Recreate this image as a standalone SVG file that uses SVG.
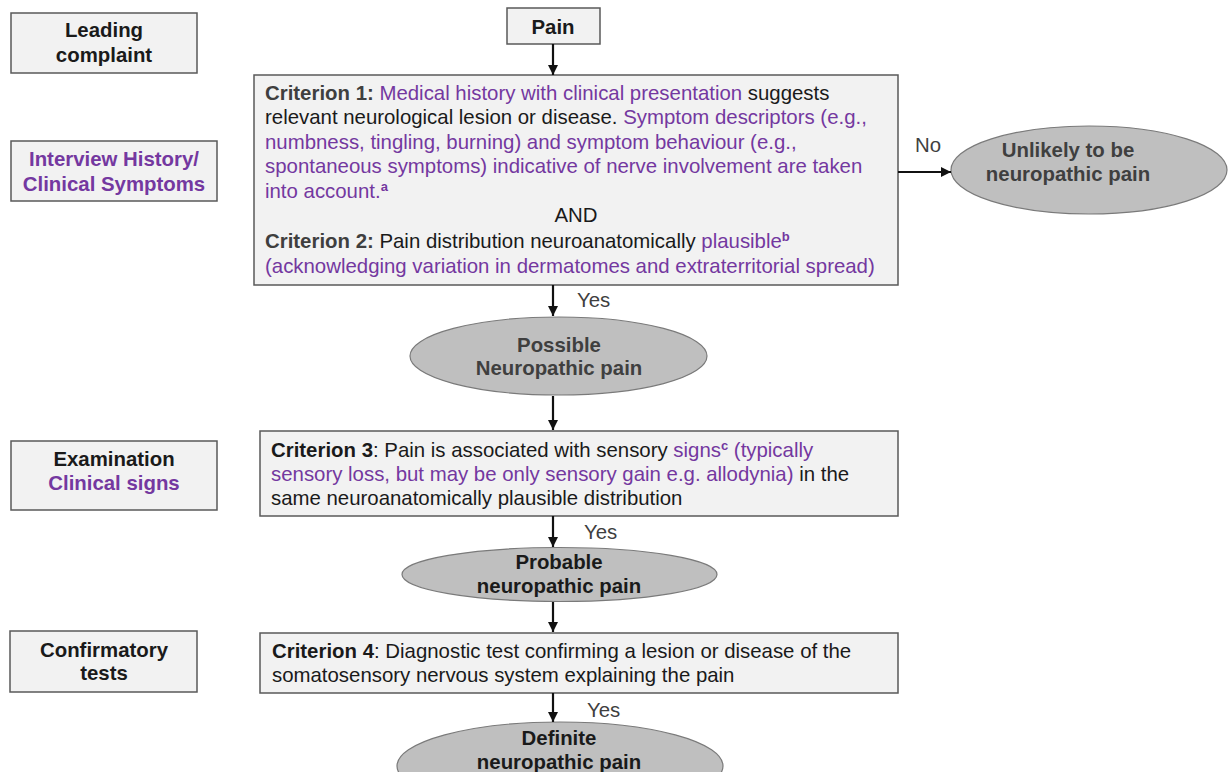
<svg xmlns="http://www.w3.org/2000/svg" width="1229" height="772" viewBox="0 0 1229 772">
<defs>
<marker id="ah" viewBox="0 0 10 10" refX="10" refY="5" markerWidth="10" markerHeight="10" markerUnits="userSpaceOnUse" orient="auto">
<path d="M0,0 L10,5 L0,10 z" fill="#111"/>
</marker>
<style>
text{font-family:"Liberation Sans",Arial,sans-serif;font-size:20.4px;fill:#1a1a1a}
.b{font-weight:bold}
.c{text-anchor:middle}
.p{fill:#7438a0}
.g{fill:#3f3f3f}
.box{fill:#f2f2f2;stroke:#595959;stroke-width:1.5}
.ell{fill:#bfbfbf;stroke:#7a7a7a;stroke-width:1.2}
.sup{font-size:13px;font-weight:bold}
.con{stroke:#111;stroke-width:2.2;fill:none;marker-end:url(#ah)}
</style>
</defs>
<rect width="1229" height="772" fill="#ffffff"/>

<g id="leading-complaint">
<rect class="box" x="11" y="13" width="186" height="60"/>
<text class="b c" x="104" y="37">Leading</text>
<text class="b c" x="104" y="62">complaint</text>
</g>

<g id="interview-history">
<rect class="box" x="11" y="141" width="206" height="60"/>
<text class="b c p" x="114" y="166">Interview History/</text>
<text class="b c p" x="114" y="191">Clinical Symptoms</text>
</g>

<g id="examination">
<rect class="box" x="11" y="441" width="206" height="69"/>
<text class="b c" x="114" y="466">Examination</text>
<text class="b c p" x="114" y="490">Clinical signs</text>
</g>

<g id="confirmatory-tests">
<rect class="box" x="10" y="631" width="187" height="61"/>
<text class="b c" x="104" y="657">Confirmatory</text>
<text class="b c" x="104" y="680">tests</text>
</g>

<g id="pain">
<rect class="box" x="507" y="8" width="93" height="36"/>
<text class="b c" x="553" y="34">Pain</text>
</g>

<g id="criterion-1">
<rect class="box" x="254" y="75" width="644" height="210"/>
<text x="265" y="100"><tspan class="b g">Criterion 1:</tspan> <tspan class="p">Medical history with clinical presentation</tspan> suggests</text>
<text x="265" y="124">relevant neurological lesion or disease. <tspan class="p">Symptom descriptors (e.g.,</tspan></text>
<text x="265" y="149" class="p">numbness, tingling, burning) and symptom behaviour (e.g.,</text>
<text x="265" y="173" class="p">spontaneous symptoms) indicative of nerve involvement are taken</text>
<text x="265" y="198" class="p">into account.<tspan class="sup" dy="-7">a</tspan></text>
<text class="c" x="576" y="222">AND</text>
<text x="265" y="248"><tspan class="b g">Criterion 2:</tspan> Pain distribution neuroanatomically <tspan class="p">plausible</tspan><tspan class="sup p" dy="-7">b</tspan></text>
<text x="265" y="273" class="p">(acknowledging variation in dermatomes and extraterritorial spread)</text>
</g>

<g id="unlikely">
<ellipse class="ell" cx="1089" cy="170" rx="138" ry="44"/>
<text class="b c g" x="1068" y="157">Unlikely to be</text>
<text class="b c g" x="1068" y="181">neuropathic pain</text>
</g>

<g id="possible">
<ellipse class="ell" cx="558.5" cy="356" rx="148.5" ry="39"/>
<text class="b c g" x="559" y="352">Possible</text>
<text class="b c g" x="559" y="375">Neuropathic pain</text>
</g>

<g id="criterion-3">
<rect class="box" x="260" y="431" width="638" height="85"/>
<text x="271" y="457"><tspan class="b">Criterion 3</tspan>: Pain is associated with sensory <tspan class="p">signs</tspan><tspan class="sup p" dy="-7">c</tspan><tspan class="p" dy="7"> (typically</tspan></text>
<text x="271" y="481"><tspan class="p">sensory loss, but may be only sensory gain e.g. allodynia)</tspan> in the</text>
<text x="271" y="505">same neuroanatomically plausible distribution</text>
</g>

<g id="probable">
<ellipse class="ell" cx="559.5" cy="574.5" rx="157.5" ry="27"/>
<text class="b c" x="559" y="569">Probable</text>
<text class="b c" x="559" y="593">neuropathic pain</text>
</g>

<g id="criterion-4">
<rect class="box" x="260" y="633" width="638" height="60"/>
<text x="272" y="658"><tspan class="b">Criterion 4</tspan>: Diagnostic test confirming a lesion or disease of the</text>
<text x="272" y="682">somatosensory nervous system explaining the pain</text>
</g>

<g id="definite">
<ellipse class="ell" cx="560" cy="766" rx="163" ry="44"/>
<text class="b c" x="559" y="745">Definite</text>
<text class="b c" x="559" y="769">neuropathic pain</text>
</g>

<g id="connectors">
<line class="con" x1="553" y1="44" x2="553" y2="75"/>
<line class="con" x1="898" y1="172" x2="951" y2="172"/>
<line class="con" x1="553" y1="285" x2="553" y2="316"/>
<line class="con" x1="553" y1="396" x2="553" y2="430"/>
<line class="con" x1="553" y1="516" x2="553" y2="547"/>
<line class="con" x1="553" y1="602" x2="553" y2="632"/>
<line class="con" x1="553" y1="693" x2="553" y2="722"/>
<text class="g" x="915" y="152">No</text>
<text class="g" x="577" y="307">Yes</text>
<text class="g" x="584" y="539">Yes</text>
<text class="g" x="587" y="717">Yes</text>
</g>
</svg>
